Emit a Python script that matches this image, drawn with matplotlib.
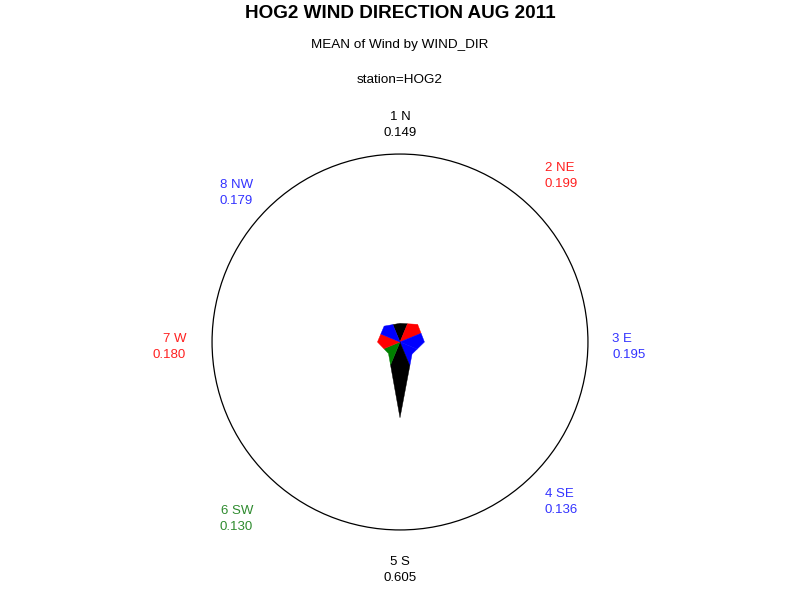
import math
import matplotlib
matplotlib.use("Agg")
import matplotlib.pyplot as plt
from matplotlib.patches import Circle, Polygon

plt.rcParams["font.family"] = ["Liberation Sans", "DejaVu Sans"]

# data: mean wind per direction, clockwise from north
labels = ["1 N", "2 NE", "3 E", "4 SE", "5 S", "6 SW", "7 W", "8 NW"]
values = [0.149, 0.199, 0.195, 0.136, 0.605, 0.130, 0.180, 0.179]
colors = ["black", "red", "blue", "blue", "black", "green", "red", "blue"]
text_colors = ["black", "#ff2020", "#3333ff", "#3333ff", "black", "#2e8b2e", "#ff2020", "#3333ff"]

# label placement (fraction of the circle radius), as SAS put them
lab_dx = [0.0, 0.771, 1.128, 0.771, 0.0, -0.782, -1.138, -0.782]
lab_dy = [1.154, 0.883, -0.027, -0.851, -1.213, -0.941, -0.027, 0.793]

R = 1.5          # outer circle, in data units
PX = 125.3       # pixels per data unit
CX, CY = 400, 342  # centre in pixels

fig = plt.figure(figsize=(8, 6), dpi=100)
ax = fig.add_axes([0, 0, 1, 1])
ax.set_xlim(-CX / PX, (800 - CX) / PX)
ax.set_ylim(-(600 - CY) / PX, CY / PX)
ax.set_aspect("equal")
ax.axis("off")

n = len(values)
step = 2 * math.pi / n
angles = [i * step for i in range(n)]
verts = [(v * math.sin(a), v * math.cos(a)) for v, a in zip(values, angles)]


def boundary(i):
    # point where the ray half way between i and i+1 meets the edge v_i -> v_{i+1}
    j = (i + 1) % n
    a = angles[i] + step / 2
    dx, dy = math.sin(a), math.cos(a)
    x1, y1 = verts[i]
    x2, y2 = verts[j]
    ex, ey = x2 - x1, y2 - y1
    det = dx * (-ey) - dy * (-ex)
    t = (x1 * (-ey) - y1 * (-ex)) / det
    return (t * dx, t * dy)


bpts = [boundary(i) for i in range(n)]
for i in range(n):
    poly = [(0, 0), bpts[i - 1], verts[i], bpts[i]]
    ax.add_patch(Polygon(poly, closed=True, facecolor=colors[i],
                         edgecolor=colors[i], linewidth=0.3))

ax.add_patch(Circle((0, 0), R, fill=False, edgecolor="black", linewidth=0.9))

# category labels around the circle
for lab, v, fx, fy, tc in zip(labels, values, lab_dx, lab_dy, text_colors):
    if abs(fx) < 0.01:
        ha = "center"
    elif fx > 0:
        ha = "left"
    else:
        ha = "right"
    ax.text(fx * R, fy * R, f"{lab}\n{v:.3f}", ha=ha, va="center", fontsize=9.5,
            color=tc, linespacing=1.5, multialignment=ha)

fig.text(0.5, 1 - 13 / 600, "HOG2 WIND DIRECTION AUG 2011", ha="center", va="center",
         fontsize=13.6, fontweight="bold")
fig.text(0.5, 1 - 45 / 600, "MEAN of Wind by WIND_DIR", ha="center", va="center", fontsize=9.7)
fig.text(0.5, 1 - 80 / 600, "station=HOG2", ha="center", va="center", fontsize=9.7)

fig.savefig("out.png", dpi=100, facecolor="white")
